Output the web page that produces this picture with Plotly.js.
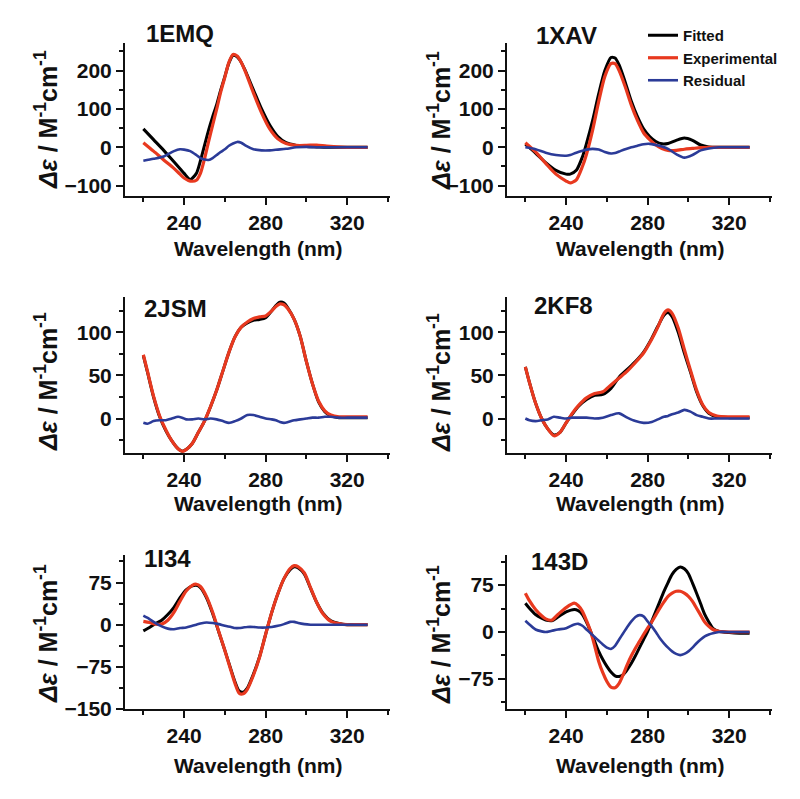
<!DOCTYPE html>
<html><head><meta charset="utf-8">
<script src="https://cdn.plot.ly/plotly-3.0.1.min.js"></script>
<style>html,body{margin:0;padding:0;background:#ffffff}</style>
</head><body><div id="chart" style="width:800px;height:799px"></div>
<script>
// ---------- data ----------
const seriesNames = ['Fitted', 'Experimental', 'Residual'];
const panelNames = ['1EMQ', '1XAV', '2JSM', '2KF8', '1I34', '143D'];
const xTitle = 'Wavelength (nm)';
const yTitle = '<i>Δε</i> / M<sup>-1</sup>cm<sup>-1</sup>';

const wl_1EMQ  = [220,225,230,235,238,240,243,246,248,250,252,254,256,258,260,262,264,266,268,270,274,278,282,286,290,295,300,305,310,320,330];
const fit_1EMQ = [48,20,-8,-38,-56,-68,-84,-68,-35,5,45,80,112,150,185,220,240,236,222,200,150,100,58,28,12,5,2,1,0,0,0];
const exp_1EMQ = [12,-10,-33,-55,-70,-80,-88,-86,-68,-30,15,58,100,145,183,222,242,238,222,198,142,90,48,22,10,5,5,6,3,0,0];
const res_1EMQ = [-35,-30,-24,-10,-5,-6,-10,-20,-28,-32,-33,-28,-20,-12,-5,4,10,14,12,5,-5,-8,-8,-6,-4,0,1,0,0,0,0];

const wl_1XAV  = [220,225,230,235,240,242,245,248,250,253,256,259,262,264,266,269,272,275,278,281,284,287,290,294,298,302,306,310,315,320,330];
const fit_1XAV = [8,-15,-40,-60,-70,-70,-60,-25,10,70,140,200,234,233,215,170,120,80,48,28,15,9,10,18,24,18,6,1,0,0,0];
const exp_1XAV = [12,-12,-42,-70,-88,-93,-85,-50,-18,45,120,185,218,218,200,158,110,70,38,20,6,-3,-8,-8,-5,-3,-1,0,0,0,0];
const res_1XAV = [0,-5,-14,-20,-22,-20,-14,-9,-6,-4,-6,-12,-16,-15,-11,-5,0,4,8,9,6,2,-4,-18,-27,-20,-8,-3,0,0,0];

const wl_2JSM  = [220,222,225,228,231,234,237,239,241,244,247,250,253,256,259,262,265,268,271,274,277,280,283,285,287,289,291,294,297,300,303,306,309,312,316,320,325,330];
const fit_2JSM = [73,54,25,2,-14,-26,-35,-38,-36,-29,-16,-3,14,33,55,77,95,106,111,114,115,117,125,131,135,134,128,115,95,66,40,19,8,3,1,1,1,1];
const exp_2JSM = [74,55,26,3,-13,-26,-35,-38,-36,-29,-16,-3,14,33,55,77,95,106,112,116,118,119,125,130,133,132,127,115,95,66,40,20,9,4,2,2,2,2];
const res_2JSM = [-5,-6,-3,-2,-2,0,2,1,-1,-1,0,-1,0,-1,-3,-5,-3,0,4,4,2,0,-1,-2,-4,-5,-4,-2,-1,0,1,1,2,2,1,1,1,1];

const wl_2KF8  = [220,222,225,228,231,234,237,240,243,246,250,254,258,262,266,270,274,278,282,285,288,290,292,295,298,301,304,307,310,314,320,325,330];
const fit_2KF8 = [60,42,18,0,-12,-19,-16,-5,5,14,22,27,28,35,48,57,66,77,93,107,120,123,118,100,76,54,31,15,6,2,1,1,1];
const exp_2KF8 = [60,42,18,0,-12,-20,-16,-5,6,15,24,29,31,39,47,55,65,76,92,106,122,126,122,105,80,56,33,16,7,3,2,2,2];
const res_2KF8 = [0,-2,-3,-2,-1,2,1,0,1,1,1,0,1,4,6,1,-3,-5,-4,-1,2,3,5,7,10,8,4,2,0,0,0,0,0];

const wl_1I34  = [220,223,226,229,232,235,238,241,244,246,248,251,254,257,260,263,265,267,269,271,274,277,280,283,286,289,292,294,296,299,302,305,308,312,316,320,325,330];
const fit_1I34 = [-11,-5,2,8,18,31,48,62,69,70,66,48,20,-13,-46,-80,-102,-118,-120,-113,-88,-57,-17,22,55,82,98,103,101,90,65,40,21,7,2,0,0,0];
const exp_1I34 = [6,4,1,1,8,22,42,60,70,72,68,50,22,-12,-46,-82,-105,-122,-123,-115,-90,-58,-17,22,55,82,100,105,103,92,66,40,20,6,2,0,0,0];
const res_1I34 = [16,10,3,-3,-7,-8,-6,-5,-2,0,2,4,3,1,-2,-4,-6,-6,-5,-4,-4,-5,-5,-4,-2,1,5,5,3,1,0,0,0,0,0,0,0,0];

const wl_143D  = [220,222,225,228,230,233,236,240,244,246,248,250,252,254,256,258,260,262,264,266,268,270,272,274,276,278,280,282,284,286,288,290,292,294,296,298,300,302,304,306,308,310,312,315,320,325,330];
const fit_143D = [46,38,28,22,19,18,24,32,36,34,28,16,1,-15,-31,-44,-55,-64,-70,-71,-68,-60,-50,-38,-25,-12,1,17,33,49,65,79,92,100,104,101,93,78,62,45,28,16,6,1,-1,-2,-2];
const exp_143D = [62,50,36,26,21,19,28,39,46,42,33,18,1,-22,-47,-65,-79,-88,-89,-82,-68,-52,-38,-26,-15,-4,6,16,27,38,48,57,62,65,65,62,57,49,38,27,16,9,4,1,0,0,0];
const res_143D = [18,12,4,1,0,2,4,6,12,13,10,4,-2,-8,-14,-20,-25,-27,-22,-12,-2,8,17,24,27,25,17,9,0,-10,-18,-25,-31,-35,-37,-35,-31,-25,-18,-12,-7,-4,-2,0,0,0,0];

const yRanges = [[-127,272],[-127,272],[-40,141],[-40,141],[-150,124],[-123,123]];
const yDticks = [100,100,50,50,75,75];

// ---------- build ----------
const panels = [
  [wl_1EMQ, fit_1EMQ, exp_1EMQ, res_1EMQ],
  [wl_1XAV, fit_1XAV, exp_1XAV, res_1XAV],
  [wl_2JSM, fit_2JSM, exp_2JSM, res_2JSM],
  [wl_2KF8, fit_2KF8, exp_2KF8, res_2KF8],
  [wl_1I34, fit_1I34, exp_1I34, res_1I34],
  [wl_143D, fit_143D, exp_143D, res_143D]
];
const colors = ['#000000', '#e8391f', '#2b3b98'];
const widths = [3, 3.2, 2.6];
const F = 'Arial, "Liberation Sans", sans-serif';
const W = 800, H = 799;

// plot-area pixel boxes
const colX = [[125, 390], [507, 772]];
const rowY = [[43, 196], [297, 453], [555, 709]];

const traces = [];
const layout = {
  width: W, height: H,
  margin: {l: 0, r: 0, t: 0, b: 0},
  paper_bgcolor: '#ffffff', plot_bgcolor: 'rgba(0,0,0,0)',
  font: {family: F, color: '#111'},
  showlegend: true,
  legend: {x: 643 / W, y: 1 - 19 / H, xanchor: 'left', yanchor: 'top',
           bgcolor: 'rgba(0,0,0,0)', font: {family: F, size: 15, weight: 'bold', color: '#111'},
           tracegroupgap: 0, itemwidth: 30},
  annotations: []
};

panels.forEach((p, i) => {
  const n = i + 1;
  const col = i % 2, row = Math.floor(i / 2);
  const xs = n === 1 ? '' : String(n);
  const [x0, x1] = colX[col];
  const [y0, y1] = rowY[row];
  for (let s = 0; s < 3; s++) {
    traces.push({
      type: 'scatter', mode: 'lines', x: p[0], y: p[s + 1],
      xaxis: 'x' + xs, yaxis: 'y' + xs,
      name: seriesNames[s], showlegend: n === 1, legendgroup: seriesNames[s],
      line: {color: colors[s], width: widths[s], shape: 'spline', smoothing: 0.7}
    });
  }
  layout['xaxis' + xs] = {
    domain: [x0 / W, x1 / W], anchor: 'y' + xs, range: [211, 341],
    showline: true, linecolor: '#111', linewidth: 2,
    ticks: 'outside', ticklen: 7, tickwidth: 2, tickcolor: '#111',
    tick0: 240, dtick: 40,
    minor: {ticks: 'outside', ticklen: 4, tickwidth: 2, tickcolor: '#111', dtick: 20, tick0: 220, showgrid: false},
    showgrid: false, zeroline: false, fixedrange: true,
    tickfont: {family: F, size: 21, weight: 'bold', color: '#111'}
  };
  layout['yaxis' + xs] = {
    domain: [1 - y1 / H, 1 - y0 / H], anchor: 'x' + xs, range: yRanges[i],
    showline: true, linecolor: '#111', linewidth: 2,
    ticks: 'outside', ticklen: 7, tickwidth: 2, tickcolor: '#111',
    tick0: 0, dtick: yDticks[i],
    minor: {ticks: 'outside', ticklen: 4, tickwidth: 2, tickcolor: '#111', dtick: yDticks[i] / 2, tick0: 0, showgrid: false},
    showgrid: false, zeroline: false, fixedrange: true,
    tickfont: {family: F, size: 21, weight: 'bold', color: '#111'}
  };
  // panel name
  const titlePos = [[144, 33], [534, 35], [142, 308], [532, 305], [142, 558], [529, 561]][i];
  layout.annotations.push({
    xref: 'paper', yref: 'paper', x: titlePos[0] / W, y: 1 - titlePos[1] / H,
    xanchor: 'left', yanchor: 'middle', showarrow: false,
    text: '<b>' + panelNames[i] + '</b>', font: {family: F, size: 24, color: '#111'}
  });
  // x title
  const xtY = [248, 503, 765][row];
  layout.annotations.push({
    xref: 'paper', yref: 'paper', x: (x0 + x1) / 2 / W, y: 1 - xtY / H,
    xanchor: 'center', yanchor: 'middle', showarrow: false,
    text: '<b>' + xTitle + '</b>', font: {family: F, size: 21, color: '#111'}
  });
  // y title
  const ytX = [46, 439][col];
  const ytY = [120, 382, 634][row];
  layout.annotations.push({
    xref: 'paper', yref: 'paper', x: ytX / W, y: 1 - ytY / H,
    xanchor: 'center', yanchor: 'middle', showarrow: false, textangle: -90,
    text: '<b>' + yTitle + '</b>', font: {family: F, size: 25, color: '#111'}
  });
});

Plotly.newPlot('chart', traces, layout, {staticPlot: true, displayModeBar: false});
</script>
</body></html>
